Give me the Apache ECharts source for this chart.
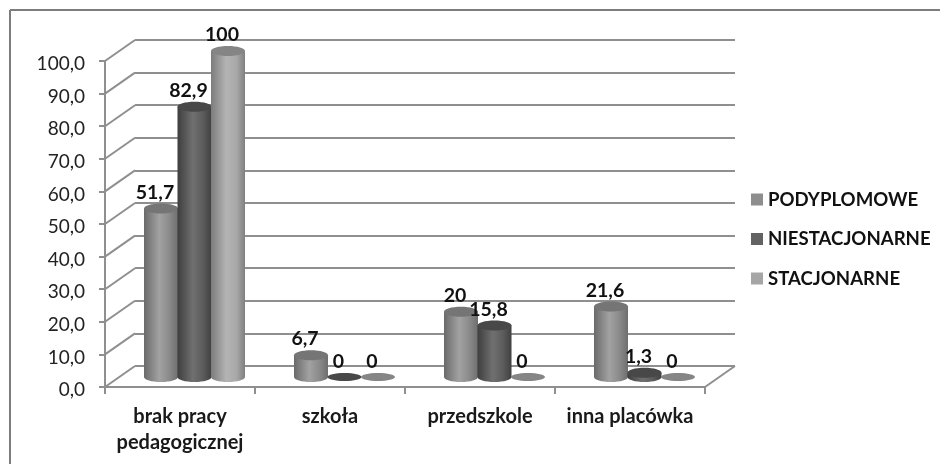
<!DOCTYPE html>
<html><head><meta charset="utf-8">
<style>html,body{margin:0;padding:0;background:#fff}#c{width:940px;height:464px}</style>
<script src="https://cdn.jsdelivr.net/npm/echarts@6/dist/echarts.min.js"></script>
</head><body><div id="c"></div>
<script>
const categories = ['brak pracy\npedagogicznej', 'szkoła', 'przedszkole', 'inna placówka'];
const podyplomowe = [51.7, 6.7, 20, 21.6];
const niestacjonarne = [82.9, 0, 15.8, 1.3];
const stacjonarne = [100, 0, 0, 0];
const seriesNames = ['PODYPLOMOWE', 'NIESTACJONARNE', 'STACJONARNE'];
const valueTicks = [0, 10, 20, 30, 40, 50, 60, 70, 80, 90, 100];

const FONT = 'Lato, Carlito, "Open Sans", sans-serif';
const DEPTH_X = 30, DEPTH_Y = 21;
const BAR_W = 34, BAR_STEP = 33.5, RY = 5;
const MID_X = 14.5, MID_Y = 10;
const LINE = '#8f8f8f';
const styles = [
  {legend:'#8e8e8e', top:'#757575', g:['#6a6a6a','#a2a2a2','#8a8a8a','#6e6e6e']},
  {legend:'#626262', top:'#484848', g:['#3e3e3e','#707070','#5c5c5c','#404040']},
  {legend:'#a6a6a6', top:'#858585', g:['#7c7c7c','#b4b4b4','#a8a8a8','#808080']}
];

function cylinder(k){
  return function(params, api){
    const cat = api.value(0), val = api.value(1);
    const base = api.coord([cat, 0]), top = api.coord([cat, val]);
    const cx = base[0] + MID_X + (k - 1) * BAR_STEP;
    const by = base[1] - MID_Y, ty = top[1] - MID_Y;
    const rx = BAR_W / 2;
    const st = styles[k];
    const grad = {type:'linear', x:0, y:0, x2:1, y2:0, colorStops:[
      {offset:0, color:st.g[0]}, {offset:0.45, color:st.g[1]},
      {offset:0.75, color:st.g[2]}, {offset:1, color:st.g[3]}]};
    const children = [];
    if (val > 0) {
      children.push({type:'ellipse', shape:{cx:cx, cy:by, rx:rx, ry:RY}, style:{fill:grad}});
      children.push({type:'rect', shape:{x:cx-rx, y:ty, width:BAR_W, height:by-ty}, style:{fill:grad}});
    }
    children.push({type:'ellipse', shape:{cx:cx, cy:ty, rx:rx, ry:val>0?RY:4}, style:{fill:st.top}});
    children.push({type:'text', z2:50, style:{
      text:String(val).replace('.', ','), x:cx-6, y:ty-(val>0?16:15), align:'center', verticalAlign:'middle',
      font:'bold 19.5px '+FONT, fill:'#111'}});
    return {type:'group', children:children};
  };
}
function wall(params, api){
  const v = api.value(1);
  const cat = api.value(0);
  const half = api.size([1,0])[0] / 2;
  const p = api.coord([cat, v]);
  const x = p[0] + (cat === 0 ? -half : half);
  return {type:'line', shape:{x1:x, y1:p[1], x2:x+DEPTH_X, y2:p[1]-DEPTH_Y},
    style:{stroke:LINE, lineWidth:2, fill:null}};
}
const wallData = valueTicks.map(v => [0, v]).concat([[categories.length-1, 0]]);
const valueSets = [podyplomowe, niestacjonarne, stacjonarne];

const chart = echarts.init(document.getElementById('c'), null, {renderer:'canvas'});
chart.setOption({
  animation:false,
  backgroundColor:'#fff',
  graphic:[
    {type:'line', shape:{x1:10,y1:10,x2:940,y2:10}, style:{stroke:'#7d7d7d', lineWidth:2}},
    {type:'line', shape:{x1:10,y1:10,x2:10,y2:464}, style:{stroke:'#7d7d7d', lineWidth:2}}
  ],
  legend:{
    data:seriesNames, orient:'vertical', left:746, top:185, itemWidth:12, itemHeight:12, itemGap:20.5,
    icon:'rect', textStyle:{fontFamily:FONT, fontWeight:'bold', fontSize:18.6, color:'#111'}, selectedMode:false
  },
  grid:[
    {left:135, top:40, width:600, height:326},
    {left:105, top:61, width:600, height:326}
  ],
  xAxis:[
    {gridIndex:0, type:'category', data:categories, show:false},
    {gridIndex:1, type:'category', data:categories,
     axisLine:{lineStyle:{color:LINE, width:2}},
     axisTick:{show:true, length:7, lineStyle:{color:LINE, width:2}},
     axisLabel:{margin:17, interval:0, fontFamily:FONT, fontWeight:'bold', fontSize:20, lineHeight:26, color:'#1a1a1a'}}
  ],
  yAxis:[
    {gridIndex:0, type:'value', min:0, max:100, interval:10,
     axisLine:{show:false}, axisTick:{show:false}, axisLabel:{show:false},
     splitLine:{show:true, lineStyle:{color:LINE, width:2}}},
    {gridIndex:1, type:'value', min:0, max:100, interval:10,
     axisLine:{show:true, lineStyle:{color:LINE, width:2}},
     axisTick:{show:true, length:6, lineStyle:{color:LINE, width:2}},
     axisLabel:{margin:20, fontFamily:FONT, fontSize:19, color:'#222', verticalAlign:'top', lineHeight:6,
       formatter:v => v.toFixed(1).replace('.', ',')},
     splitLine:{show:false}}
  ],
  series:[
    {type:'custom', name:'wall', xAxisIndex:1, yAxisIndex:1, silent:true, z:1,
     data:wallData, renderItem:wall, clip:false}
  ].concat(seriesNames.map((name, k) => ({
    type:'custom', name:name, xAxisIndex:1, yAxisIndex:1, z:3+k, clip:false,
    itemStyle:{color:styles[k].legend},
    data:valueSets[k].map((v, i) => [i, v]),
    renderItem:cylinder(k)
  })))
});
</script></body></html>
